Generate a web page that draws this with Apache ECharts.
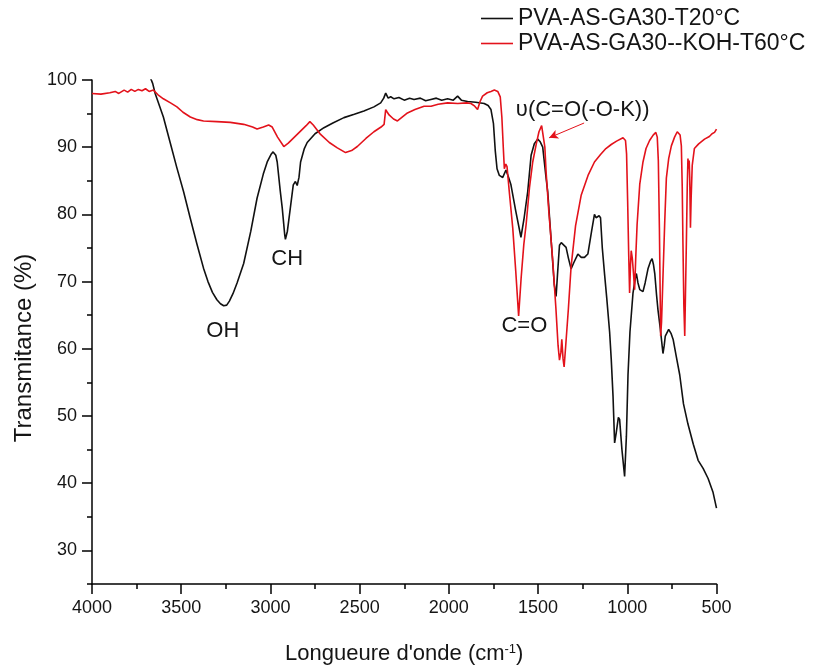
<!DOCTYPE html>
<html>
<head>
<meta charset="utf-8">
<script src="https://cdn.jsdelivr.net/npm/echarts@6/dist/echarts.min.js"></script>
<style>
html,body{margin:0;padding:0;background:#fff;}
#chart{width:814px;height:670px;}
</style>
</head>
<body>
<div id="chart"></div>
<script>
// ---- data ----
const seriesNames = ['PVA-AS-GA30-T20°C', 'PVA-AS-GA30--KOH-T60°C'];

const blackWn = [4000,3750,3680,3660,3646,3600,3562,3525,3487,3450,3412,3375,3350,3325,3300,3280,3262,3245,3230,3210,3187,3150,3110,3075,3040,3018,2995,2985,2970,2962,2945,2934,2920,2916,2905,2893,2872,2860,2850,2840,2831,2810,2794,2750,2700,2650,2588,2530,2476,2420,2382,2365,2354,2340,2326,2307,2280,2250,2220,2195,2160,2130,2101,2070,2040,2007,1975,1951,1930,1895,1850,1802,1780,1764,1750,1740,1730,1717,1698,1680,1665,1652,1625,1596,1578,1558,1539,1521,1502,1488,1474,1455,1446,1425,1409,1399,1390,1380,1370,1362,1343,1330,1315,1300,1277,1258,1240,1221,1200,1184,1175,1165,1158,1150,1140,1127,1115,1099,1090,1080,1071,1062,1050,1043,1030,1015,1005,996,985,968,955,949,940,930,912,900,884,870,861,853,846,836,828,815,800,793,787,768,755,743,725,706,685,660,630,603,575,547,520,500];
const blackT = [101,101,100.8,99.5,98.0,94.5,90.7,87.0,83.4,79.5,75.6,72.0,70.0,68.4,67.3,66.7,66.4,66.5,67.1,68.2,69.8,72.7,77.5,82.4,86.0,87.8,89.0,89.3,88.8,87.8,83.5,81.0,77.0,76.3,77.5,80.0,84.4,84.9,84.3,85.5,87.8,89.8,90.7,92.0,92.9,93.6,94.4,94.9,95.4,96.0,96.6,97.3,98.05,97.3,97.5,97.2,97.4,97.0,97.3,97.1,97.3,96.9,97.1,97.3,97.0,97.2,97.0,97.6,97.0,96.8,96.7,96.5,96.2,95.6,93.5,89.5,86.8,85.8,85.5,86.6,85.5,84.4,80.5,76.6,79.5,83.4,88.8,90.5,91.2,90.8,90.0,85.4,83.4,75.5,69.5,67.8,71.5,75.4,75.8,75.6,75.1,73.5,71.9,72.8,74.1,73.6,73.6,74.1,77.5,80.0,79.5,79.3,79.8,79.5,75.0,71.0,67.5,62.5,58.5,53.0,46.0,47.5,49.8,49.5,45.0,41.0,47.0,56.1,62.5,68.3,70.5,71.2,69.8,68.8,68.5,69.8,71.9,73.0,73.4,72.5,71.2,68.0,65.8,63.0,59.3,60.5,61.9,62.9,62.3,61.4,58.8,56.1,51.8,48.8,45.8,43.4,42.2,40.7,38.7,36.3];

const redWn = [4000,3950,3900,3870,3850,3820,3800,3780,3760,3740,3720,3700,3680,3656,3630,3600,3560,3524,3490,3449,3410,3375,3300,3225,3150,3100,3075,3040,3010,2990,2960,2925,2900,2850,2800,2779,2760,2719,2670,2625,2579,2545,2513,2465,2420,2380,2363,2354,2345,2335,2310,2288,2260,2232,2190,2139,2100,2060,2007,1950,1900,1876,1855,1839,1825,1811,1785,1764,1745,1726,1712,1703,1695,1689,1681,1674,1660,1642,1625,1609,1595,1580,1567,1548,1530,1510,1495,1480,1470,1462,1455,1440,1418,1400,1388,1380,1372,1367,1360,1354,1345,1330,1315,1290,1258,1220,1184,1150,1120,1090,1060,1024,1010,1004,998,992,987,982,978,972,966,959,952,945,940,930,912,895,875,855,840,832,826,820,813,808,800,790,781,768,753,735,720,712,704,697,692,688,683,678,674,669,664,660,656,653,650,646,642,636,624,600,567,540,525,511,500];
const redT = [98.0,97.9,98.1,98.3,98.0,98.5,98.2,98.6,98.3,98.6,98.4,98.7,98.3,98.5,97.8,97.2,96.6,96.0,95.2,94.5,94.1,93.9,93.8,93.7,93.4,93.0,92.7,93.0,93.3,93.0,91.5,90.1,90.6,91.9,93.2,93.8,93.3,91.9,90.7,89.9,89.2,89.5,90.1,91.3,92.3,93.0,93.4,95.6,95.2,94.8,94.2,93.9,94.5,95.1,95.6,96.1,96.1,96.4,96.6,96.5,96.6,96.5,96.1,95.6,96.8,97.6,98.1,98.3,98.5,98.3,97.5,94.5,90.0,86.8,87.5,87.1,83.0,78.0,71.5,64.9,70.5,75.5,78.5,84.0,87.8,90.5,92.3,93.2,93.0,90.0,86.3,80.5,73.2,66.0,60.5,58.3,59.5,61.4,58.5,57.3,60.5,66.0,72.2,78.3,82.9,85.8,87.8,88.9,89.8,90.4,90.9,91.4,91.0,89.0,82.0,74.0,68.3,72.5,74.6,73.5,71.5,68.8,74.0,78.5,80.5,84.5,87.8,89.8,91.0,91.8,92.2,91.5,88.0,78.0,61.9,64.0,70.7,79.0,85.4,88.3,90.2,91.5,92.3,92.4,91.8,90.2,84.0,75.6,66.5,61.9,68.0,75.6,84.0,88.3,86.8,88.0,85.4,78.0,82.5,87.3,89.8,90.5,91.2,91.6,92.0,92.2,92.7];

// tick values
const xTicks = [500,1000,1500,2000,2500,3000,3500,4000];
const yMajorTicks = [30,40,50,60,70,80,90,100];
const yMinorTicks = [25,35,45,55,65,75,85,95];

// annotations [wavenumber, transmittance, text]
const annotations = [
  [3267, 62.7, 'OH'],
  [2906, 73.4, 'CH'],
  [1577, 63.4, 'C=O'],
  [1250, 95.6, 'υ(C=O(-O-K))']
];
const arrowFrom = [1242, 93.6];
const arrowTo = [1438, 91.4];

const FONT = '"Liberation Sans", Arial, Helvetica, sans-serif';
const TXT = '#151515';
const RED = '#e3121b';

const blackData = blackWn.map((w, i) => [w, blackT[i]]);
const redData = redWn.map((w, i) => [w, redT[i]]);

const chart = echarts.init(document.getElementById('chart'), null, {renderer: 'canvas'});
chart.setOption({
  animation: false,
  backgroundColor: '#fff',
  textStyle: {fontFamily: FONT, color: TXT},
  grid: {left: 92, right: 97.5, top: 80, bottom: 79, containLabel: false},
  legend: {
    orient: 'vertical',
    left: 476,
    top: 2,
    itemWidth: 32,
    itemHeight: 1.6,
    itemGap: 2,
    icon: 'rect',
    data: seriesNames,
    textStyle: {fontFamily: FONT, fontSize: 23, color: TXT, padding: [0, 0, 0, 0]}
  },
  xAxis: {
    type: 'value',
    min: 500,
    max: 4000,
    interval: 500,
    inverse: true,
    name: "Longueure d'onde (cm{sup|-1})",
    nameLocation: 'middle',
    nameGap: 59,
    nameTextStyle: {
      fontFamily: FONT, fontSize: 22, color: TXT,
      rich: {sup: {fontFamily: FONT, fontSize: 13, color: TXT, verticalAlign: 'top'}}
    },
    axisLine: {show: true, onZero: false, lineStyle: {color: '#000', width: 1.5}},
    axisTick: {show: true, inside: false, length: 10, lineStyle: {color: '#000', width: 1.5}},
    minorTick: {show: true, splitNumber: 2, length: 5, lineStyle: {color: '#000', width: 1.5}},
    axisLabel: {fontFamily: FONT, fontSize: 18, color: TXT, margin: 15, formatter: v => String(v)},
    splitLine: {show: false},
    minorSplitLine: {show: false}
  },
  yAxis: [{
    type: 'value',
    min: 25,
    max: 100,
    position: 'left',
    name: 'Transmitance (%)',
    nameLocation: 'middle',
    nameGap: 56,
    nameTextStyle: {fontFamily: FONT, fontSize: 24, color: TXT, padding: [0, 32, 0, 0]},
    axisLine: {show: true, onZero: false, lineStyle: {color: '#000', width: 1.5}},
    axisTick: {show: true, inside: false, length: 10, customValues: yMajorTicks, lineStyle: {color: '#000', width: 1.5}},
    axisLabel: {fontFamily: FONT, fontSize: 18, color: TXT, margin: 15, customValues: yMajorTicks, formatter: v => String(v)},
    splitLine: {show: false}
  }, {
    type: 'value',
    min: 25,
    max: 100,
    position: 'left',
    offset: 0,
    axisLine: {show: false},
    axisTick: {show: true, inside: false, length: 5, customValues: yMinorTicks, lineStyle: {color: '#000', width: 1.5}},
    axisLabel: {show: false},
    splitLine: {show: false}
  }],
  series: [{
    name: seriesNames[0],
    type: 'line',
    data: blackData,
    showSymbol: false,
    symbol: 'none',
    clip: true,
    lineStyle: {color: '#111', width: 1.6},
    itemStyle: {color: '#111'},
    markPoint: {
      silent: true,
      symbol: 'circle',
      symbolSize: 1,
      itemStyle: {color: 'rgba(0,0,0,0)'},
      label: {show: true, position: 'inside', fontFamily: FONT, fontSize: 22, color: TXT, formatter: p => p.name},
      data: annotations.map(a => ({name: a[2], coord: [a[0], a[1]]}))
    }
  }, {
    name: seriesNames[1],
    type: 'line',
    data: redData,
    showSymbol: false,
    symbol: 'none',
    clip: true,
    lineStyle: {color: RED, width: 1.6},
    itemStyle: {color: RED},
    markLine: {
      silent: true,
      symbol: ['none', 'arrow'],
      symbolSize: [7, 9],
      label: {show: false},
      lineStyle: {color: RED, width: 1, type: 'solid'},
      data: [[{coord: arrowFrom}, {coord: arrowTo}]]
    }
  }]
});
</script>
</body>
</html>
